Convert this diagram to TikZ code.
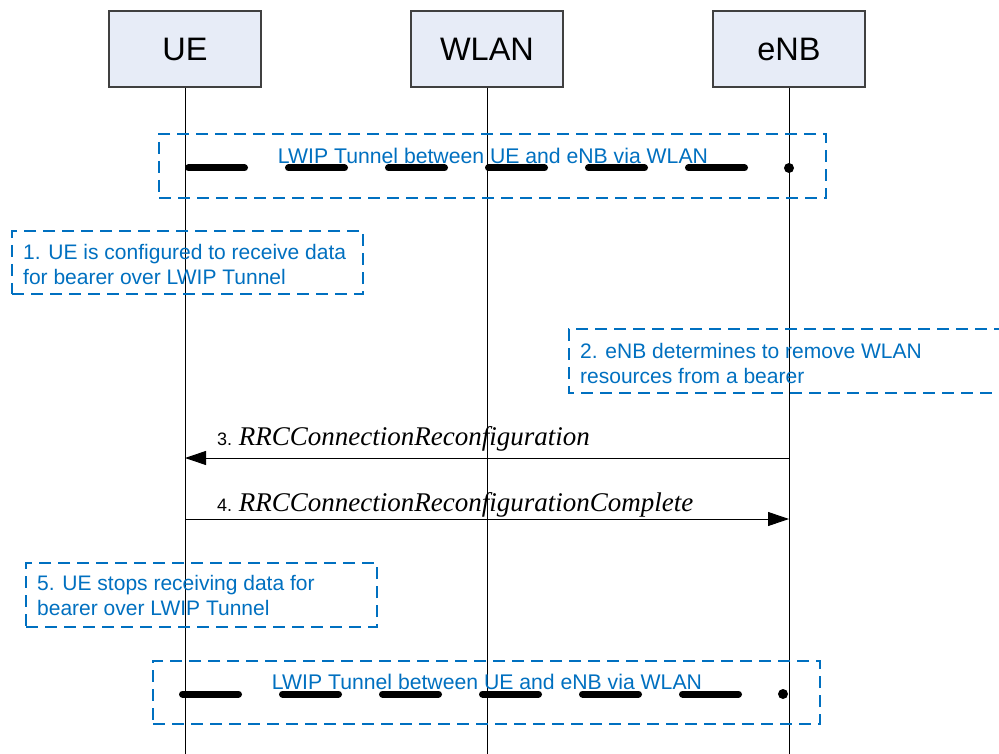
\documentclass[tikz,border=0pt]{standalone}
\usepackage{fontspec}
\setmainfont{Liberation Sans}
\newfontfamily\timesfont{Liberation Serif}
\usetikzlibrary{arrows.meta,calc}
\definecolor{vblue}{RGB}{0,112,192}
\definecolor{hdrfill}{RGB}{231,236,247}
\definecolor{hdrline}{RGB}{64,64,64}
\begin{document}
\begin{tikzpicture}[x=1pt,y=-1pt,
  actor/.style={draw=hdrline, line width=1.2pt, fill=hdrfill, minimum width=152pt, minimum height=76pt, inner sep=0pt, font=\fontsize{32.5}{36}\selectfont},
  life/.style={line width=1pt},
  bluebox/.style={draw=vblue, line width=2pt, dash pattern=on 12pt off 7pt},
  bluetxt/.style={text=vblue, font=\fontsize{21}{24.5}\selectfont, inner sep=0pt},
  tunneltxt/.style={text=vblue, font=\fontsize{21.2}{24.5}\selectfont, inner sep=0pt},
  tunnelseg/.style={line width=7pt, line cap=round},
  msg/.style={line width=1pt, -{Triangle[length=21pt,width=14pt]}},
  msglabel/.style={inner sep=0pt, anchor=base west}
]
\useasboundingbox (0,0) rectangle (999,754);
\fill[white] (0,0) rectangle (999,754);

% actors
\node[actor] (ue) at (185,49) {UE};
\node[actor] (wlan) at (487,49) {WLAN};
\node[actor] (enb) at (789,49) {eNB};

% lifelines
\coordinate (ueEnd) at (185,754);
\coordinate (wlanEnd) at (487,754);
\coordinate (enbEnd) at (789,754);
\draw[life] (ue.south) -- (ueEnd);
\draw[life] (wlan.south) -- (wlanEnd);
\draw[life] (enb.south) -- (enbEnd);

% tunnel 1
\node[bluebox, minimum width=667pt, minimum height=64pt, anchor=north west, inner sep=0pt] (tb1) at (158,133) {};
\node[tunneltxt] (tt1) at (493,156) {LWIP Tunnel between UE and eNB via WLAN};
\coordinate (tun1) at (185,168);
\coordinate (tun1end) at (789,168);
\foreach \i in {0,...,5} \draw[tunnelseg] ($(tun1)+(3.5+100*\i,0)$) -- ++(56,0);
\fill (tun1end) circle[radius=5pt];

% note 1
\node[bluebox, minimum width=351pt, minimum height=63pt, anchor=north west, inner sep=0pt] (nb1) at (11,230) {};
\node[bluetxt, align=left, anchor=north west] (nt1) at (23,244.5) {1. UE is configured to receive data\\for bearer over LWIP Tunnel};

% note 2
\draw[bluebox] (1006,329) -- (569,329) -- (569,393) -- (1006,393);
\node[bluetxt, align=left, anchor=north west] (nt2) at (580,343.5) {2. eNB determines to remove WLAN\\resources from a bearer};

% message 3
\coordinate (m3a) at (789,458);
\coordinate (m3b) at (185,458);
\draw[msg] (m3a) -- (m3b);
\node[msglabel] (l3) at (217,445) {\fontsize{18}{20}\selectfont 3. {\timesfont\itshape\fontsize{27}{30}\selectfont RRCConnectionReconfiguration}};

% message 4
\coordinate (m4a) at (185,519);
\coordinate (m4b) at (789,519);
\draw[msg] (m4a) -- (m4b);
\node[msglabel] (l4) at (217,511) {\fontsize{18}{20}\selectfont 4. {\timesfont\itshape\fontsize{27}{30}\selectfont RRCConnectionReconfigurationComplete}};

% note 5
\node[bluebox, minimum width=351pt, minimum height=64pt, anchor=north west, inner sep=0pt] (nb5) at (25,562) {};
\node[bluetxt, align=left, anchor=north west] (nt5) at (37,575.5) {5. UE stops receiving data for\\bearer over LWIP Tunnel};

% tunnel 2
\node[bluebox, minimum width=667pt, minimum height=63pt, anchor=north west, inner sep=0pt] (tb2) at (152,660) {};
\node[tunneltxt] (tt2) at (487,682) {LWIP Tunnel between UE and eNB via WLAN};
\coordinate (tun2) at (179,694);
\coordinate (tun2end) at (783,694);
\foreach \i in {0,...,5} \draw[tunnelseg] ($(tun2)+(3.5+100*\i,0)$) -- ++(56,0);
\fill (tun2end) circle[radius=5pt];
\end{tikzpicture}
\end{document}
